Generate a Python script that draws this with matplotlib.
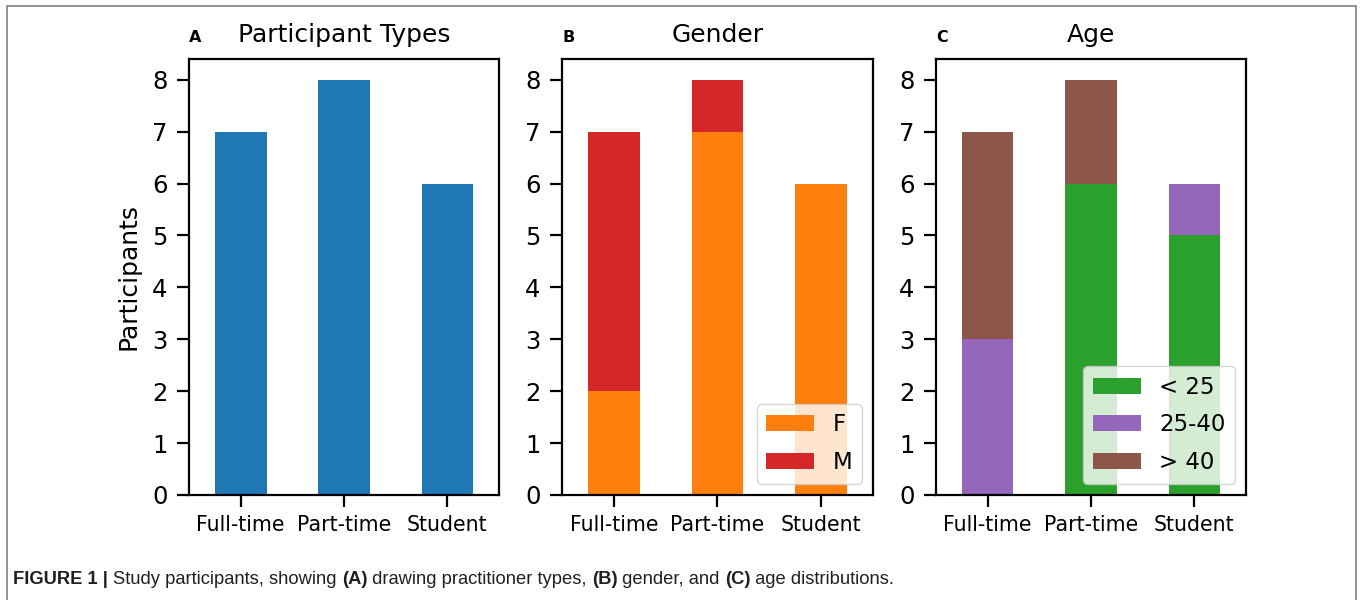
import matplotlib.pyplot as plt
from matplotlib import font_manager
from matplotlib.patches import Rectangle

# participant counts per category
categories = ["Full-time", "Part-time", "Student"]
type_counts = [7, 8, 6]

gender_labels = ["F", "M"]
gender_f = [2, 7, 6]
gender_m = [5, 1, 0]

age_labels = ["< 25", "25-40", "> 40"]
age_under25 = [0, 6, 5]
age_25_40 = [3, 0, 1]
age_over40 = [4, 2, 0]

W, H = 1360, 600
XTICK_FS = 14.8
YTICK_FS = 17.5
TITLE_FS = 18
LEGEND_FS = 16.5

fig = plt.figure(figsize=(W / 100, H / 100), dpi=100)


def px_axes(left, top, right, bottom):
    return fig.add_axes([left / W, 1 - bottom / H, (right - left) / W, (bottom - top) / H])


def style_axes(ax, title, letter):
    ax.set_xlim(-0.5, 2.5)
    ax.set_ylim(0, 8.4)
    ax.set_yticks(range(9))
    ax.set_xticks(range(len(categories)))
    ax.set_xticklabels(categories)
    ax.tick_params(length=8.5, width=1.6)
    ax.tick_params(axis="y", pad=7, labelsize=YTICK_FS)
    ax.tick_params(axis="x", pad=6, labelsize=XTICK_FS)
    for s in ax.spines.values():
        s.set_linewidth(1.6)
    ax.set_title(title, fontsize=TITLE_FS, pad=12)
    ax.set_title(letter, loc="left", fontsize=11.5, fontweight="bold", pad=12)


x = range(len(categories))
bw = 0.5

ax_a = px_axes(189, 59, 499, 495)
ax_a.bar(x, type_counts, width=bw, color="tab:blue")
style_axes(ax_a, "Participant Types", "A")
ax_a.set_ylabel("Participants", fontsize=TITLE_FS, labelpad=8)

ax_b = px_axes(562, 59, 873, 495)
ax_b.bar(x, gender_f, width=bw, color="tab:orange", label=gender_labels[0])
ax_b.bar(x, gender_m, width=bw, bottom=gender_f, color="tab:red", label=gender_labels[1])
style_axes(ax_b, "Gender", "B")
ax_b.legend(loc="lower right", fontsize=LEGEND_FS, handlelength=2.1, labelspacing=0.65)

ax_c = px_axes(936, 59, 1246, 495)
bottom2 = [a + b for a, b in zip(age_under25, age_25_40)]
ax_c.bar(x, age_under25, width=bw, color="tab:green", label=age_labels[0])
ax_c.bar(x, age_25_40, width=bw, bottom=age_under25, color="tab:purple", label=age_labels[1])
ax_c.bar(x, age_over40, width=bw, bottom=bottom2, color="tab:brown", label=age_labels[2])
style_axes(ax_c, "Age", "C")
ax_c.legend(loc="lower right", fontsize=LEGEND_FS, handlelength=2.1, labelspacing=0.65)

# grey frame around the whole figure
fig.patches.append(Rectangle((7 / W, -0.05), (1356 - 7) / W, 1 - 6 / H + 0.05,
                             transform=fig.transFigure, fill=False,
                             edgecolor="#8a8a8a", linewidth=1.3))

# caption: mixed bold / regular runs placed one after another
installed = {f.name for f in font_manager.fontManager.ttflist}
cap_family = "Liberation Sans Narrow" if "Liberation Sans Narrow" in installed else "Liberation Sans"
cap_fs = 15.8 if cap_family == "Liberation Sans Narrow" else 13.2
runs = [("FIGURE 1 | ", "bold"), ("Study participants, showing ", "normal"),
        ("(A)", "bold"), (" drawing practitioner types, ", "normal"),
        ("(B)", "bold"), (" gender, and ", "normal"),
        ("(C)", "bold"), (" age distributions.", "normal")]
fig.canvas.draw()
renderer = fig.canvas.get_renderer()
xpos = 13
for txt, wt in runs:
    t = fig.text(xpos / W, 1 - 584 / H, txt, fontsize=cap_fs, fontweight=wt,
                 family=cap_family, color="#231f20", va="baseline", ha="left")
    bb = t.get_window_extent(renderer=renderer)
    xpos += bb.width

fig.savefig("out.png", dpi=100)
